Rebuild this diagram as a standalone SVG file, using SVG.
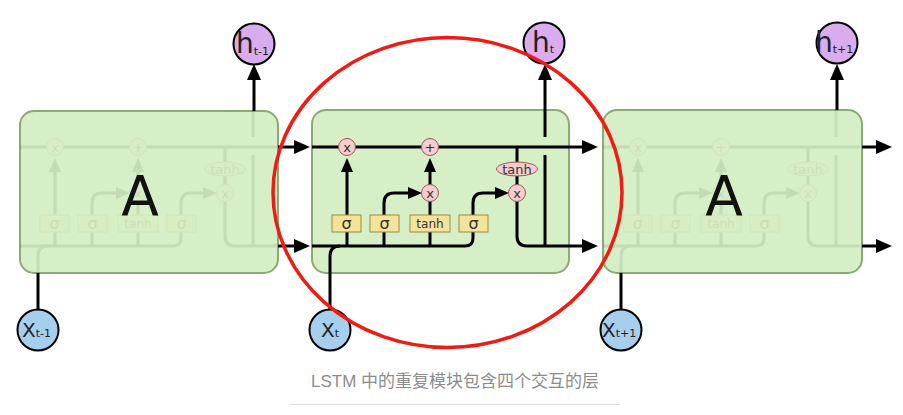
<svg xmlns="http://www.w3.org/2000/svg" xmlns:xlink="http://www.w3.org/1999/xlink" width="903" height="415" viewBox="0 0 903 415">
<style>
.box{fill:#d6efc6;stroke:#8aac72;stroke-width:2}
.ln{fill:none;stroke:#000;stroke-width:3}
.op{fill:#f6cccc;stroke:#9a5a5a;stroke-width:1}
.gate{fill:#f6e39a;stroke:#9a8a45;stroke-width:1}
.opt{font-family:"DejaVu Sans",sans-serif;font-size:13px;fill:#333;text-anchor:middle}
.gt{font-family:"DejaVu Sans",sans-serif;fill:#333;text-anchor:middle}
.hn{fill:#d9acee;stroke:#000;stroke-width:2}
.xn{fill:#a6cfee;stroke:#000;stroke-width:2}
.nt{font-family:"DejaVu Sans",sans-serif;fill:#222}
.big{font-family:"DejaVu Sans",sans-serif;font-size:55px;fill:#111;text-anchor:middle}
</style>
<defs>
<marker id="ah" markerUnits="userSpaceOnUse" viewBox="0 0 16 14" refX="0" refY="7" markerWidth="16" markerHeight="14" orient="auto">
<path d="M0,0 L16,7 L0,14 Z" fill="#000"/>
</marker>
<marker id="as" markerUnits="userSpaceOnUse" viewBox="0 0 14 12" refX="0" refY="6" markerWidth="14" markerHeight="12" orient="auto">
<path d="M0,0 L14,6 L0,12 Z" fill="#000"/>
</marker>
<g id="cell">
<path class="ln" d="M312,147 H569"/>
<path class="ln" d="M312,246 H465 Q473,246 473,238 V232"/>
<path class="ln" d="M330,273 V256 Q330,246 340,246"/>
<path class="ln" d="M347,246 V232"/>
<path class="ln" d="M347,215 V172" marker-end="url(#as)"/>
<path class="ln" d="M384,246 V232"/>
<path class="ln" d="M384,215 V203 Q384,193 394,193 H408" marker-end="url(#as)"/>
<path class="ln" d="M430,246 V232"/>
<path class="ln" d="M430,215 V201"/>
<path class="ln" d="M430,185 V172" marker-end="url(#as)"/>
<path class="ln" d="M473,215 V203 Q473,193 483,193 H495" marker-end="url(#as)"/>
<path class="ln" d="M517,147 V162"/>
<path class="ln" d="M517,176 V185"/>
<path class="ln" d="M517,201 V236 Q517,246 527,246 H569"/>
<path class="ln" d="M545,246 V155"/>
<path class="ln" d="M545,137 V110"/>
<circle class="op" cx="347" cy="147" r="8.5"/>
<text class="opt" x="347" y="151.5">x</text>
<circle class="op" cx="430" cy="147" r="8.5"/>
<text class="opt" x="430" y="151.5">+</text>
<circle class="op" cx="430" cy="193" r="8.5"/>
<text class="opt" x="430" y="197.5">x</text>
<circle class="op" cx="517" cy="193" r="8.5"/>
<text class="opt" x="517" y="197.5">x</text>
<ellipse class="op" cx="517" cy="169" rx="20.5" ry="7"/>
<text class="opt" x="517" y="173.5">tanh</text>
<rect class="gate" x="332" y="215" width="29" height="17"/>
<text class="gt" x="346.5" y="229" font-size="16">σ</text>
<rect class="gate" x="370" y="215" width="29" height="17"/>
<text class="gt" x="384.5" y="229" font-size="16">σ</text>
<rect class="gate" x="410" y="215" width="40" height="17"/>
<text class="gt" x="430" y="228" font-size="12">tanh</text>
<rect class="gate" x="459" y="215" width="29" height="17"/>
<text class="gt" x="473.5" y="229" font-size="16">σ</text>
</g>
</defs>

<g id="block-prev">
<rect class="box" x="20" y="111" width="258" height="162" rx="14"/>
<use xlink:href="#cell" href="#cell" transform="translate(-292,0)" opacity="0.08"/>
<text class="big" x="140" y="215">A</text>
</g>

<g id="block-current">
<rect class="box" x="312" y="110" width="257" height="163" rx="14"/>
<use xlink:href="#cell" href="#cell"/>
</g>

<g id="block-next">
<rect class="box" x="603" y="110" width="259" height="163" rx="14"/>
<use xlink:href="#cell" href="#cell" transform="translate(291,0)" opacity="0.08"/>
<text class="big" x="724" y="215">A</text>
</g>

<g id="connectors">
<path class="ln" d="M278,147 H294" marker-end="url(#ah)"/>
<path class="ln" d="M278,246 H294" marker-end="url(#ah)"/>
<path class="ln" d="M569,147 H582" marker-end="url(#ah)"/>
<path class="ln" d="M569,246 H582" marker-end="url(#ah)"/>
<path class="ln" d="M862,147 H876" marker-end="url(#ah)"/>
<path class="ln" d="M862,246 H876" marker-end="url(#ah)"/>
<path class="ln" d="M254,111 V80" marker-end="url(#ah)"/>
<path class="ln" d="M545,110 V80" marker-end="url(#ah)"/>
<path class="ln" d="M837,110 V80" marker-end="url(#ah)"/>
<path class="ln" d="M38,273 V309"/>
<path class="ln" d="M330,273 V309"/>
<path class="ln" d="M621,273 V309"/>
</g>

<g id="h-prev">
<circle class="hn" cx="254" cy="44" r="20.5"/>
<text class="nt" x="236" y="53" font-size="28">h<tspan font-size="11" dy="2">t-1</tspan></text>
</g>
<g id="h-current">
<circle class="hn" cx="544" cy="43" r="20.5"/>
<text class="nt" x="532" y="52" font-size="28">h<tspan font-size="11" dy="1">t</tspan></text>
</g>
<g id="h-next">
<circle class="hn" cx="837" cy="43" r="20.5"/>
<text class="nt" x="815" y="52" font-size="28">h<tspan font-size="11" dy="1">t+1</tspan></text>
</g>

<g id="x-prev">
<circle class="xn" cx="38" cy="330" r="20.5"/>
<text class="nt" x="22" y="337" font-size="20">X<tspan font-size="11">t-1</tspan></text>
</g>
<g id="x-current">
<circle class="xn" cx="330" cy="330" r="20.5"/>
<text class="nt" x="321" y="337" font-size="20">X<tspan font-size="11">t</tspan></text>
</g>
<g id="x-next">
<circle class="xn" cx="621" cy="330" r="20.5"/>
<text class="nt" x="602" y="337" font-size="20">X<tspan font-size="11">t+1</tspan></text>
</g>

<g id="highlight">
<ellipse cx="447.5" cy="192.5" rx="174.5" ry="155" fill="none" stroke="#f01c14" stroke-width="3.5"/>
</g>

<g id="caption">
<text x="455" y="387" font-family="'Liberation Sans','Noto Sans CJK SC',sans-serif" font-size="17" fill="#8c8c8c" text-anchor="middle">LSTM 中的重复模块包含四个交互的层</text>
<line x1="290" y1="404.5" x2="620" y2="404.5" stroke="#dddddd" stroke-width="1"/>
</g>
</svg>
